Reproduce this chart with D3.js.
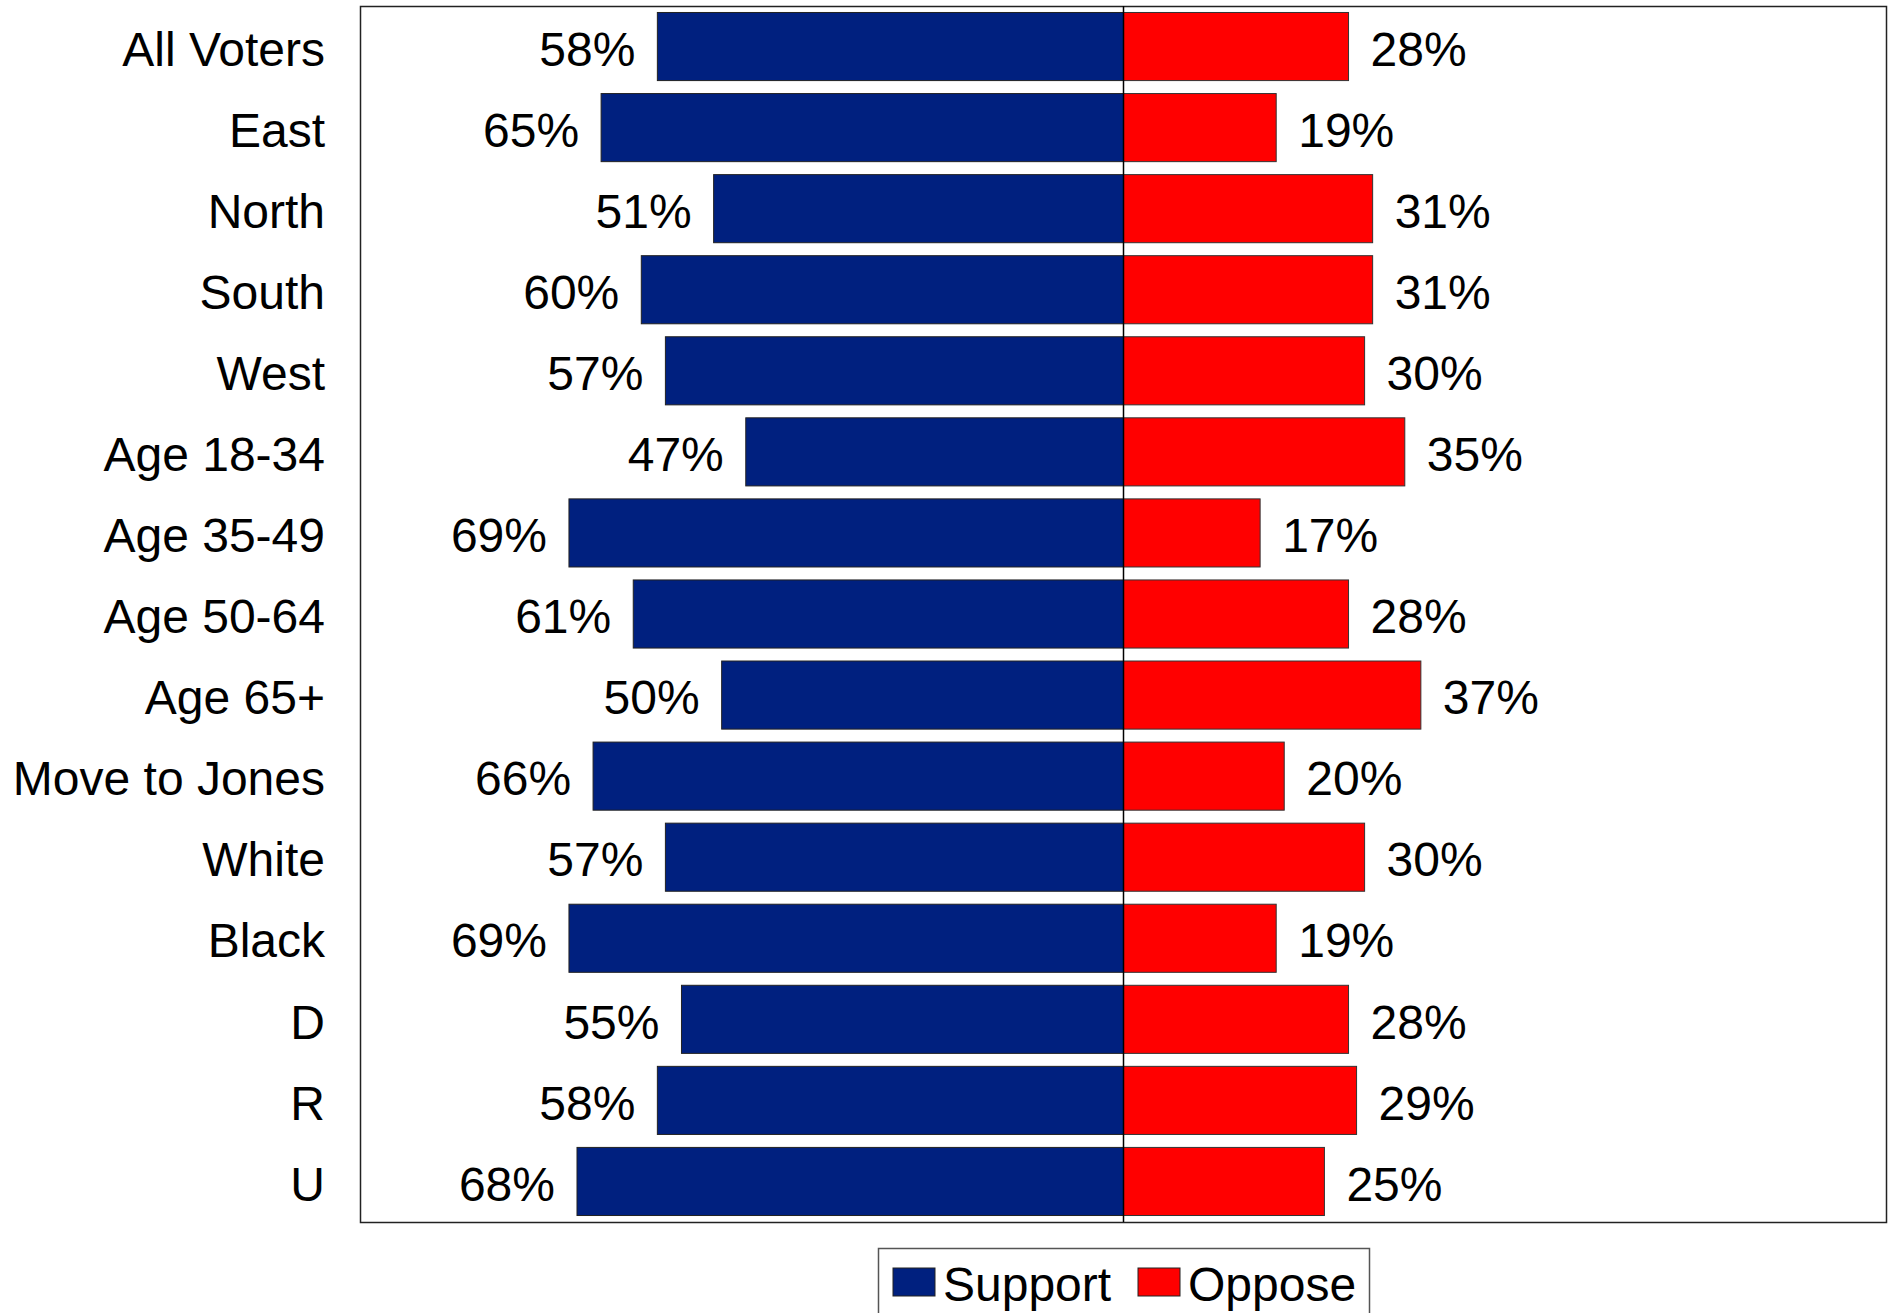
<!DOCTYPE html>
<html>
<head>
<meta charset="utf-8">
<script src="https://cdn.jsdelivr.net/npm/d3@7"></script>
<style>
  body { margin: 0; background: #fff; }
  text { font-family: "Liberation Sans", Arial, sans-serif; fill: #000; }
</style>
</head>
<body>
<svg width="1892" height="1313"></svg>
<script>
const categories = ["All Voters", "East", "North", "South", "West", "Age 18-34", "Age 35-49",
  "Age 50-64", "Age 65+", "Move to Jones", "White", "Black", "D", "R", "U"];
const support = [58, 65, 51, 60, 57, 47, 69, 61, 50, 66, 57, 69, 55, 58, 68];
const oppose = [28, 19, 31, 31, 30, 35, 17, 28, 37, 20, 30, 19, 28, 29, 25];
const seriesNames = ["Support", "Oppose"];
const seriesColors = ["#00207f", "#ff0000"];

const svg = d3.select("svg"),
  width = +svg.attr("width"),
  height = +svg.attr("height");

const plot = { left: 360, right: 1887, top: 6, bottom: 1222 };
const fontSize = 48;

const x = d3.scaleLinear()
  .domain([-95, 95])
  .range([plot.left, plot.right]);

const y = d3.scaleBand()
  .domain(categories)
  .range([plot.top, plot.bottom])
  .paddingInner(0.16)
  .paddingOuter(0.08);

const rows = categories.map((c, i) => ({ cat: c, sup: support[i], opp: oppose[i] }));

// plot frame
svg.append("rect")
  .attr("x", plot.left + 0.5)
  .attr("y", plot.top + 0.5)
  .attr("width", plot.right - plot.left - 1)
  .attr("height", plot.bottom - plot.top)
  .attr("fill", "none")
  .attr("stroke", "#222")
  .attr("stroke-width", 1.5);

// support bars (left)
svg.append("g")
  .selectAll("rect")
  .data(rows)
  .join("rect")
  .attr("x", d => x(-d.sup))
  .attr("y", d => y(d.cat))
  .attr("width", d => x(0) - x(-d.sup))
  .attr("height", y.bandwidth())
  .attr("fill", seriesColors[0])
  .attr("stroke", "#222")
  .attr("stroke-width", 1);

// oppose bars (right)
svg.append("g")
  .selectAll("rect")
  .data(rows)
  .join("rect")
  .attr("x", x(0))
  .attr("y", d => y(d.cat))
  .attr("width", d => x(d.opp) - x(0))
  .attr("height", y.bandwidth())
  .attr("fill", seriesColors[1])
  .attr("stroke", "#333")
  .attr("stroke-width", 1);

// zero line
svg.append("line")
  .attr("x1", x(0))
  .attr("x2", x(0))
  .attr("y1", plot.top)
  .attr("y2", plot.bottom)
  .attr("stroke", "#000")
  .attr("stroke-width", 1.5);

// value labels
const mid = d => y(d.cat) + y.bandwidth() / 2;

svg.append("g")
  .selectAll("text")
  .data(rows)
  .join("text")
  .attr("x", d => x(-d.sup) - 22)
  .attr("y", mid)
  .attr("dy", "0.4em")
  .attr("text-anchor", "end")
  .attr("font-size", fontSize)
  .text(d => d.sup + "%");

svg.append("g")
  .selectAll("text")
  .data(rows)
  .join("text")
  .attr("x", d => x(d.opp) + 22)
  .attr("y", mid)
  .attr("dy", "0.4em")
  .attr("font-size", fontSize)
  .text(d => d.opp + "%");

// category labels
svg.append("g")
  .selectAll("text")
  .data(rows)
  .join("text")
  .attr("x", plot.left - 35)
  .attr("y", mid)
  .attr("dy", "0.4em")
  .attr("text-anchor", "end")
  .attr("font-size", fontSize)
  .text(d => d.cat);

// legend
const legend = svg.append("g").attr("transform", "translate(878,1248)");
legend.append("rect")
  .attr("x", 0.5)
  .attr("y", 0.5)
  .attr("width", 491)
  .attr("height", 100)
  .attr("fill", "#fff")
  .attr("stroke", "#555")
  .attr("stroke-width", 1.5);

const legendX = [15, 260];
seriesNames.forEach((name, i) => {
  legend.append("rect")
    .attr("x", legendX[i])
    .attr("y", 20)
    .attr("width", 42)
    .attr("height", 28)
    .attr("fill", seriesColors[i])
    .attr("stroke", "#222");
  legend.append("text")
    .attr("x", legendX[i] + 50)
    .attr("y", 34)
    .attr("dy", "0.4em")
    .attr("font-size", fontSize)
    .text(name);
});
</script>
</body>
</html>
